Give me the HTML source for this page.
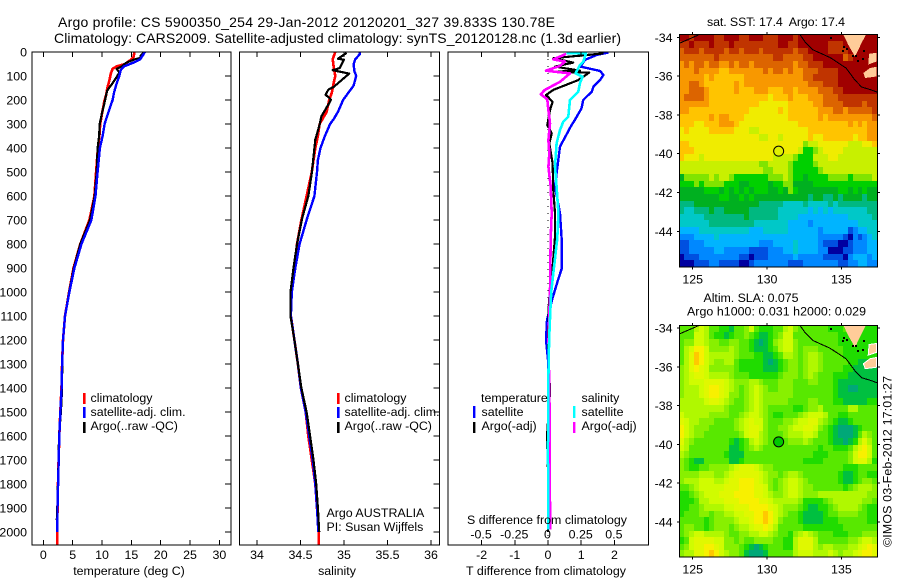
<!DOCTYPE html>
<html lang="en">
<head>
<meta charset="utf-8">
<title>Argo profile</title>
<style>
html,body{margin:0;padding:0;background:#fff;width:900px;height:580px;overflow:hidden}
svg{display:block}
text{font-family:"Liberation Sans",sans-serif;font-size:12.4px;fill:#000}
.title{font-size:14px}
</style>
</head>
<body>
<svg id="chart" xmlns="http://www.w3.org/2000/svg" width="900" height="580" viewBox="0 0 900 580">
<rect x="0" y="0" width="900" height="580" fill="#fff"/>
<text class="title" x="58" y="27" textLength="497" lengthAdjust="spacing">Argo profile: CS 5900350_254 29-Jan-2012 20120201_327 39.833S 130.78E</text>
<text class="title" x="54" y="43" textLength="567" lengthAdjust="spacing">Climatology: CARS2009. Satellite-adjusted climatology: synTS_20120128.nc (1.3d earlier)</text>
<g id="layer-maps"></g>
<g id="layer-lines"></g>
<g id="layer-axes"></g>

<text x="129" y="575" text-anchor="middle">temperature (deg C)</text>
<text x="337" y="575" text-anchor="middle">salinity</text>
<text x="546" y="575" text-anchor="middle" textLength="160">T difference from climatology</text>
<text x="547" y="524" text-anchor="middle" textLength="160">S difference from climatology</text>

<g>
<rect x="83" y="393" width="2.6" height="11" fill="#ff0000"/>
<text x="90.5" y="402">climatology</text>
<rect x="83" y="407" width="2.6" height="11" fill="#0000ff"/>
<text x="90.5" y="416">satellite-adj. clim.</text>
<rect x="83" y="422" width="2.6" height="11" fill="#000"/>
<text x="90.5" y="430">Argo(..raw -QC)</text>
</g>
<g>
<rect x="337" y="393" width="2.6" height="11" fill="#ff0000"/>
<text x="344.5" y="402">climatology</text>
<rect x="337" y="407" width="2.6" height="11" fill="#0000ff"/>
<text x="344.5" y="416">satellite-adj. clim.</text>
<rect x="337" y="422" width="2.6" height="11" fill="#000"/>
<text x="344.5" y="430">Argo(..raw -QC)</text>
<text x="326.5" y="517">Argo AUSTRALIA</text>
<text x="326.5" y="531">PI: Susan Wijffels</text>
</g>
<g>
<text x="481" y="402">temperature</text>
<rect x="473" y="406" width="2.4" height="12" fill="#0000ff"/>
<text x="481.5" y="416">satellite</text>
<rect x="473" y="422" width="2.4" height="11" fill="#000"/>
<text x="481.5" y="430">Argo(-adj)</text>
<text x="581.5" y="402">salinity</text>
<rect x="573" y="406" width="2.4" height="12" fill="#00ffff"/>
<text x="581.5" y="416">satellite</text>
<rect x="573" y="422" width="2.4" height="11" fill="#ff00ff"/>
<text x="581.5" y="430">Argo(-adj)</text>
</g>

<text x="707" y="26" textLength="138" xml:space="preserve">sat. SST: 17.4  Argo: 17.4</text>
<text x="703.5" y="302" textLength="95">Altim. SLA: 0.075</text>
<text x="687" y="315.5" textLength="179">Argo h1000: 0.031 h2000: 0.029</text>
<text transform="translate(891.5,547) rotate(-90)" x="0" y="0" textLength="171">©IMOS 03-Feb-2012 17:01:27</text>
</svg>
<script>
// ---------- depth profile data (depth in metres) ----------
const tempClimDepths = [0,20,30,50,60,70,90,120,150,180,200,250,300,350,400,500,600,700,800,900,1000,1100,1200,1300,1400,1500,1600,1700,1800,1900,2000,2054];
const tempClimValues = [15.5,15.4,15.05,13.9,12.5,11.8,11.5,11.25,10.9,10.7,10.45,10.05,9.7,9.55,9.3,9.0,8.7,7.85,6.3,5.15,4.4,3.7,3.35,3.2,3.1,2.9,2.72,2.6,2.5,2.42,2.38,2.38];
const tempSatDepths = [0,10,30,45,60,75,100,130,170,200,250,300,350,400,500,600,700,800,900,1000,1100,1200,1300,1400,1500,1600,1700,1800,1900,2000];
const tempSatValues = [17.3,17.05,16.5,15.3,13.75,13.2,12.95,12.5,12.05,11.8,11.1,10.45,10.1,9.65,9.25,8.9,8.2,6.5,5.3,4.45,3.7,3.35,3.2,3.12,2.92,2.72,2.62,2.52,2.42,2.4];
const tempArgoDepths = [0,15,25,30,45,60,70,85,100,130,160,180,220,260,300,350,400,500,600,700,800,900,1000,1100,1200,1300,1400,1500,1600,1700,1800,1900,1950];
const tempArgoValues = [17.15,16.6,16.5,15.6,14.1,13.35,12.5,12.95,12.6,11.8,10.9,10.7,10.35,9.95,9.6,9.5,9.25,9.1,8.75,7.95,6.3,5.2,4.4,3.7,3.35,3.22,3.2,3.0,2.68,2.6,2.48,2.38,2.3];

const salClimDepths = [0,30,60,100,130,170,200,250,300,350,400,500,600,700,800,900,1000,1100,1200,1300,1400,1500,1600,1700,1800,1900,2000,2054];
const salClimValues = [34.9,34.87,34.88,34.9,34.88,34.86,34.83,34.8,34.72,34.7,34.67,34.63,34.57,34.51,34.46,34.43,34.39,34.39,34.43,34.47,34.505,34.56,34.59,34.63,34.67,34.69,34.71,34.71];
const salSatDepths = [0,10,30,50,80,100,140,170,200,250,280,300,350,400,450,500,600,700,800,900,1000,1100,1200,1300,1400,1500,1600,1700,1800,1900,2000];
const salSatValues = [35.18,35.18,35.13,35.11,35.12,35.14,35.11,35.05,34.99,34.93,34.88,34.84,34.78,34.73,34.7,34.69,34.66,34.57,34.49,34.44,34.4,34.39,34.43,34.47,34.505,34.56,34.6,34.64,34.67,34.69,34.705];
const salArgoDepths = [4,28,32,67,76,90,146,157,178,199,219,268,303,365,504,601,692,800,900,1000,1100,1200,1300,1400,1500,1600,1700,1800,1900,2000];
const salArgoValues = [35.03,34.93,35.0,34.95,34.87,35.06,34.88,34.82,34.79,34.85,34.82,34.74,34.72,34.67,34.63,34.59,34.52,34.46,34.42,34.385,34.385,34.43,34.47,34.51,34.57,34.61,34.65,34.68,34.7,34.715];

const diffTSatDepths = [2,12,33,61,79,96,117,144,165,200,235,283,304,394,505,561,672,776,900,950,1033,1117,1200,1283,1500,1700,2000];
const diffTSatValues = [1.82,1.47,1.11,0.98,1.57,1.67,1.57,1.37,1.32,1.06,1.01,0.81,0.71,0.36,0.26,0.21,0.36,0.41,0.42,0.3,0.12,-0.03,-0.06,0,0,0,0];
const diffTArgoDepths = [6,26,44,61,78,82,86,117,158,179,207,242,304,339,381,464,575,672,769,930,1033,1200,1417,1600,1750,2000];
const diffTArgoValues = [1.67,0.16,0.76,0.21,0.96,0.16,1.24,0.91,0.16,-0.06,0.14,0.06,-0.02,0.11,0.04,0.14,0.16,0.21,0.21,0.12,0.03,0,0.06,-0.03,0,0];
const diffSSatDepths = [6,6,40,54,89,103,131,165,200,269,290,325,381,478,561,672,776,1000,1100,1200,1417,1620,1640,1700,1720,1990];
const diffSSatValues = [0.14,0.286,0.266,0.24,0.208,0.26,0.24,0.228,0.166,0.153,0.115,0.09,0.065,0.053,0.065,0.078,0.07,0.024,0.016,0.008,0.001,0.001,-0.003,-0.003,0.001,0.001];
const diffSArgoDepths = [8,31,40,58,78,89,124,158,176,197,242,297,367,422,478,561,672,776,1000,1200,1500,1917,1990];
const diffSArgoValues = [0.136,0.04,0.128,0.09,-0.015,0.166,0.09,-0.023,-0.055,-0.005,0.003,0.015,0.003,0.01,0.003,0.02,0.028,0.02,0.015,0.004,0.012,0.015,0.015];

// ---------- axis labels ----------
const depthTicks = [0,100,200,300,400,500,600,700,800,900,1000,1100,1200,1300,1400,1500,1600,1700,1800,1900,2000];
const tempTicks = [0,5,10,15,20,25,30];
const salTicks = [34,34.5,35,35.5,36];
const diffTTicks = [-2,-1,0,1,2];
const diffSTicks = [-0.5,-0.25,0,0.25,0.5];
const lonTicks = [125,130,135];
const latTicks = [-34,-36,-38,-40,-42,-44];

// ---------- map data: colour-scale level per grid cell, north to south ----------
const sstRows = [
[15,15,14,15,15,15,15,14,14,15,15,15,14,14,15,15,15,14,14,14,15,15,15,14,15,15,15,15,15,15,15,15,15,15,15,15,15,15,15,15],
[14,14,15,14,14,14,15,14,14,14,15,14,14,14,14,14,14,14,14,14,15,15,14,14,15,15,15,15,15,15,14,14,14,15,15,15,15,15,15,15],
[13,14,14,14,13,14,14,14,14,13,14,14,13,14,14,14,13,14,14,14,14,14,14,13,14,14,15,15,15,15,14,14,14,14,15,15,15,15,15,15],
[13,13,13,13,13,13,13,14,13,13,13,13,13,13,13,13,13,13,13,14,14,13,13,13,13,14,14,15,15,15,15,15,15,13,14,15,15,15,15,15],
[12,13,12,13,13,12,13,13,12,12,13,12,13,13,12,13,13,13,13,13,13,13,13,12,13,13,14,14,14,15,15,15,15,15,15,15,15,15,15,15],
[12,12,12,13,12,12,12,12,11,11,12,12,12,12,12,12,12,13,12,13,13,12,13,12,12,13,13,13,14,14,14,14,15,15,15,15,15,15,15,15],
[12,12,12,12,12,11,12,11,11,11,11,11,11,12,12,12,12,12,12,12,12,12,12,12,12,13,13,14,14,14,14,14,15,15,15,15,15,15,15,15],
[12,12,13,13,12,11,11,11,11,11,11,12,11,12,12,12,12,12,12,12,12,12,12,12,12,12,13,13,13,14,14,14,15,15,15,15,15,15,15,15],
[12,12,13,13,13,12,11,11,11,11,11,12,11,11,11,12,12,12,11,11,11,12,12,11,12,12,12,12,13,13,13,14,14,15,15,15,15,15,15,15],
[12,13,13,13,13,12,11,11,11,11,11,11,11,11,11,11,11,11,10,11,11,11,12,11,11,11,12,12,12,13,13,13,14,14,14,14,14,14,14,14],
[12,12,12,12,12,12,11,11,11,11,11,11,11,11,11,11,10,10,10,10,10,10,11,11,11,11,11,12,12,13,13,13,13,14,14,14,14,13,14,14],
[12,12,11,11,11,11,11,11,11,11,11,11,11,11,10,10,10,10,10,10,11,10,11,11,11,11,11,11,12,12,12,13,13,12,13,13,13,13,13,14],
[11,11,11,11,11,11,12,11,12,12,11,11,11,10,10,10,10,10,10,10,10,10,11,11,11,11,11,11,12,11,12,12,12,12,12,12,12,12,12,13],
[11,11,11,10,10,11,11,11,12,12,12,11,10,10,10,10,10,10,10,10,10,10,10,10,11,11,11,11,11,11,11,11,11,11,12,11,12,11,12,12],
[10,11,10,10,10,10,11,11,11,11,11,10,10,10,9,9,10,10,10,10,10,10,10,10,10,10,11,11,11,11,11,11,11,11,11,11,11,11,12,12],
[10,10,10,10,10,10,10,10,10,10,10,10,10,10,10,10,9,9,10,10,9,10,10,10,10,10,11,10,10,11,11,11,11,11,11,10,11,11,12,12],
[11,11,10,10,10,10,10,10,10,10,10,10,10,10,10,10,10,10,10,10,10,10,10,10,10,8,9,9,10,10,10,10,10,10,9,9,9,10,10,11],
[11,11,11,10,10,10,10,10,10,10,10,10,10,10,10,10,10,10,10,10,10,10,10,10,9,7,7,8,9,10,10,10,10,9,9,9,9,9,9,9],
[11,10,10,10,9,10,10,10,10,10,10,10,10,10,10,10,10,10,10,9,9,9,9,8,7,7,7,9,9,9,10,10,9,9,9,9,9,9,9,9],
[9,9,9,9,9,9,9,9,9,9,9,9,9,9,9,9,8,8,9,9,9,9,8,7,7,7,7,8,9,9,9,9,9,9,9,9,9,9,9,9],
[9,9,9,9,9,9,9,9,9,9,9,9,9,9,9,9,9,8,8,9,9,9,8,7,7,7,7,7,8,9,9,9,9,9,9,9,9,9,9,9],
[6,8,8,8,8,8,9,8,9,9,8,7,7,7,7,7,7,7,8,8,8,9,8,7,7,6,7,7,7,7,8,8,8,8,7,8,8,8,8,9],
[7,7,7,8,7,8,8,8,8,7,7,7,6,6,7,7,7,7,6,7,7,8,8,6,6,6,6,7,7,7,7,7,7,7,7,7,7,7,7,7],
[6,6,6,6,6,7,7,7,6,7,6,7,6,7,6,7,7,7,6,6,7,6,8,7,6,6,6,6,6,6,6,6,7,7,6,7,6,7,6,6],
[6,6,6,6,6,6,6,6,7,7,6,6,7,6,7,6,6,6,6,6,6,6,6,6,6,6,5,6,6,5,5,6,5,6,6,6,6,5,6,6],
[5,5,5,6,6,6,6,6,6,6,6,6,6,6,6,6,5,5,5,5,5,4,4,4,4,5,4,4,4,4,5,4,5,5,5,5,5,5,5,5],
[5,4,4,5,5,5,6,5,5,6,6,6,6,6,5,5,5,5,5,5,4,4,4,4,4,4,3,4,3,4,3,4,4,4,4,4,4,4,5,5],
[4,4,4,4,4,5,5,5,5,5,5,5,5,6,5,5,5,5,5,5,4,4,4,4,3,3,3,3,3,3,3,3,3,3,4,4,4,4,4,5],
[4,4,4,4,4,4,5,5,5,5,5,5,5,5,5,4,4,4,4,4,4,4,3,3,3,3,2,3,3,3,3,3,3,3,3,3,4,4,4,4],
[3,3,3,3,4,4,4,4,4,4,4,4,4,4,3,3,3,4,4,4,4,4,3,3,3,3,3,3,2,3,3,3,3,3,1,2,3,3,4,4],
[2,2,2,3,3,3,3,4,3,3,3,3,3,3,3,3,3,3,3,3,3,3,3,3,3,3,3,3,2,2,2,2,2,1,0,2,1,2,3,4],
[1,1,2,2,2,3,3,3,3,3,3,3,3,3,3,3,2,2,2,3,3,3,3,4,3,3,3,3,2,1,1,1,0,0,1,2,2,2,3,3],
[1,1,2,2,2,2,2,3,3,2,2,2,2,2,1,1,1,1,2,2,2,3,3,4,3,3,3,3,2,2,0,0,0,1,1,2,2,2,3,3],
[0,1,1,1,2,2,2,2,2,2,2,2,1,1,0,1,1,1,2,2,2,2,2,3,2,2,2,2,2,1,1,1,1,0,2,3,3,3,2,3],
[0,0,0,1,1,1,2,2,1,1,1,1,0,0,1,2,2,2,2,2,2,2,1,1,1,2,2,2,2,2,2,2,1,1,2,2,3,3,2,2]
];
const slaRows = [
[3,3,3,5,6,5,3,3,2,2,1,3,3,4,6,3,2,2,2,3,3,5,6,4,3,3,3,3,3,3,2,2,2,3,3,3,3,2,2,2],
[3,3,3,6,6,5,3,2,2,1,2,3,3,4,3,2,1,1,2,3,4,6,6,3,3,3,3,3,3,3,3,3,2,2,2,2,2,2,2,2],
[3,4,4,6,6,5,4,4,3,3,4,4,3,3,2,1,0,1,2,4,5,6,6,4,3,3,3,3,3,3,3,3,2,2,2,2,2,2,2,2],
[3,5,6,8,8,6,4,4,4,4,5,4,3,3,2,1,1,1,2,3,5,6,6,4,3,4,4,4,3,3,3,3,3,2,2,2,2,2,2,2],
[3,5,7,9,8,6,5,5,5,5,5,4,3,3,3,2,2,1,1,2,3,5,5,4,3,4,5,5,4,3,3,3,3,2,2,2,2,2,2,2],
[3,5,7,9,8,6,5,4,4,5,5,3,2,2,2,2,2,1,0,1,2,3,4,4,3,4,5,5,4,3,3,3,3,3,2,2,1,1,2,2],
[4,5,7,8,7,6,4,4,4,4,4,3,2,2,2,2,2,1,1,1,2,3,4,4,3,4,5,5,4,3,3,3,3,2,2,1,1,1,1,1],
[4,5,6,7,7,6,5,5,5,5,4,3,3,3,2,2,2,2,2,2,3,4,4,4,3,4,5,4,3,3,3,2,2,2,1,1,1,1,1,1],
[4,5,6,6,6,7,7,7,7,6,5,4,4,4,5,5,4,3,3,3,4,4,4,3,3,3,4,4,3,3,3,2,1,1,1,1,1,1,1,1],
[4,5,5,5,6,7,8,8,7,6,5,4,3,4,5,6,5,4,3,3,4,4,4,3,3,3,3,3,3,3,3,2,1,1,0,0,1,1,1,1],
[4,5,5,5,6,7,8,8,7,6,4,4,3,4,5,6,5,4,4,4,4,4,4,3,3,3,3,3,3,3,3,2,1,1,1,1,1,1,1,1],
[5,5,5,5,5,6,7,7,6,5,4,3,3,4,5,6,5,4,4,4,4,4,3,3,3,3,4,4,3,3,3,2,2,1,1,1,1,1,2,2],
[5,5,5,5,5,5,5,5,5,4,3,3,3,4,5,6,5,4,3,3,3,3,3,2,2,3,4,4,5,3,3,3,3,3,5,5,3,3,3,3],
[6,5,5,5,5,5,4,4,4,4,3,3,4,5,6,6,5,4,3,2,2,3,3,3,4,5,6,6,6,5,3,3,2,2,3,3,3,3,3,3],
[7,6,5,5,4,4,4,3,3,3,3,4,5,6,7,6,6,4,3,3,3,4,4,5,6,6,7,7,5,4,3,2,1,1,2,3,3,3,3,3],
[8,6,5,4,4,4,3,3,3,3,3,4,5,6,7,7,6,4,3,3,4,4,5,6,6,7,7,6,4,3,2,1,0,0,0,1,2,3,3,3],
[8,6,5,4,4,3,3,3,3,3,3,3,4,6,7,7,5,4,3,3,3,4,5,5,5,6,6,5,3,3,2,1,0,0,0,1,3,5,4,3],
[7,5,4,3,3,3,3,3,3,3,2,1,2,3,5,6,5,4,3,3,3,3,4,4,4,5,4,3,3,3,2,1,1,0,1,2,5,7,5,3],
[6,5,3,3,3,3,3,3,3,3,1,1,2,3,4,5,4,3,3,3,3,3,3,3,3,3,3,3,2,3,3,2,2,2,3,5,7,8,6,3],
[5,4,3,3,3,3,3,3,3,2,1,1,1,3,3,3,3,3,3,3,3,3,3,3,3,3,3,2,2,2,3,3,3,3,4,6,8,8,6,3],
[4,3,2,1,1,3,3,3,3,3,1,1,2,3,3,3,3,3,3,3,3,3,3,3,3,2,2,2,2,3,3,3,3,3,4,6,7,7,5,2],
[4,3,2,2,3,3,4,4,4,4,5,6,7,7,7,6,5,4,4,3,3,3,3,3,3,3,3,3,3,3,3,3,3,2,2,2,3,3,3,3],
[4,4,4,4,5,5,5,4,4,5,6,7,7,7,7,7,6,5,4,4,3,4,5,5,4,3,3,3,3,3,3,3,2,1,1,2,3,3,2,2],
[4,5,5,5,6,6,6,5,5,6,7,7,8,8,8,7,6,5,4,3,4,5,6,6,5,4,3,3,3,3,3,3,2,1,1,2,3,4,4,3],
[3,3,4,5,6,6,6,6,6,7,7,7,8,8,8,7,7,6,4,3,4,5,6,6,5,4,4,3,3,3,3,3,3,2,3,4,5,5,5,4],
[2,2,3,4,5,6,6,6,7,7,7,8,8,8,8,7,7,6,5,4,4,5,6,6,5,4,4,4,5,5,5,5,5,5,5,5,5,5,4,4],
[2,2,2,3,5,5,6,6,6,7,7,7,8,8,8,8,7,7,6,5,5,5,5,5,4,2,2,2,2,3,4,5,5,5,5,5,5,4,4,3],
[2,2,3,3,4,5,5,5,5,6,6,7,7,7,8,8,8,8,7,6,5,4,4,4,3,2,1,1,2,2,3,4,5,5,5,5,4,3,2,2],
[2,3,3,3,4,4,3,4,4,5,5,6,6,7,7,8,8,9,8,6,5,4,3,3,2,1,1,1,1,2,3,3,4,4,4,4,3,3,2,2],
[3,3,3,3,3,2,3,4,4,4,4,5,6,6,7,8,8,9,8,6,4,3,3,3,2,1,1,1,1,2,2,2,3,3,3,3,3,3,2,2],
[3,4,4,3,3,2,3,4,4,4,3,4,5,5,6,7,7,8,7,5,3,3,3,3,3,2,2,2,2,2,2,2,2,3,3,3,3,3,3,3],
[3,4,5,6,6,5,5,5,5,4,3,3,4,4,5,5,6,6,5,4,3,3,2,4,5,6,5,4,3,3,3,2,2,2,3,3,3,4,4,4],
[2,3,6,7,7,7,7,6,6,4,4,3,4,3,3,4,4,4,4,3,3,2,2,5,7,7,7,5,3,3,3,3,3,3,4,4,5,6,6,5],
[3,4,6,7,7,8,8,7,6,4,4,4,3,2,1,0,1,2,3,3,3,2,2,5,7,7,7,5,4,5,5,4,4,4,5,5,6,7,8,7],
[4,5,5,7,7,8,9,8,6,5,4,4,3,1,0,0,0,1,3,3,3,3,3,5,6,6,6,5,5,5,6,5,4,5,5,6,7,8,8,7]
];
const sstColours = ['#0000a0','#0050e0','#0088ff','#00b4ff','#00c8c8','#00b880','#00b020','#00d000','#80e400','#c8f000','#f0ec00','#ffc400','#f89800','#dc6400','#c03400','#a00000'];
const slaColours = ['#00a878','#00c040','#20dc00','#58e800','#88f000','#b0f800','#d0fc00','#e0f800','#f8f000','#ffc800'];

// ---------- geography (lon, lat) ----------
const landNorthLon = [135.13,136.66,136.36,135.95,135.9,135.46];
const landNorthLat = [-33.85,-33.85,-34.29,-34.95,-34.98,-34.38];
const landEastLon = [136.86,137.37,137.37,136.8];
const landEastLat = [-34.85,-34.8,-35.25,-35.4];
const landSouthLon = [136.48,136.92,137.37,137.37,136.6];
const landSouthLat = [-35.84,-35.58,-35.52,-36.02,-36.1];
const contourEastLon = [132.2,132.55,133.1,134.23,135.31,135.91,136.36,136.92,137.39];
const contourEastLat = [-33.85,-34.23,-34.65,-35.04,-35.58,-36.2,-36.56,-36.69,-36.82];
const contourWestLon = [124.1,125.38];
const contourWestLat = [-34.31,-33.88];
const islandLon = [135.13,135.31,135.02,135.69,135.91,136.03,136.37,136.47,134.23];
const islandLat = [-34.46,-34.55,-34.64,-34.89,-34.89,-35.15,-35.07,-34.64,-33.98];
const floatLon = [130.78];
const floatLat = [-39.833];

const NS = 'http://www.w3.org/2000/svg';
const layerMaps = document.getElementById('layer-maps');
const layerLines = document.getElementById('layer-lines');
const layerAxes = document.getElementById('layer-axes');

function shape(tag, parent, attrs) {
  const node = document.createElementNS(NS, tag);
  for (const k in attrs) node.setAttribute(k, attrs[k]);
  parent.appendChild(node);
  return node;
}

// ---------- axis functions ----------
const depthY = d => 52 + d * 0.24;
const tempX = v => 43.3 + v * 5.87;
const salX = v => 257 + (v - 34) * 87;
const diffTX = v => 548 + v * 33.2;
const diffSX = v => 548 + v * 132.8;
const mapX = lon => 692.7 + (lon - 125) * 14.87;
const map1Y = lat => 37.3 + (-34 - lat) * 19.4;
const map2Y = lat => 328 + (-34 - lat) * 19.4;

const panels = [
  {name: 'temperature', x: 32, w: 199, xf: tempX, ticks: tempTicks, right: true},
  {name: 'salinity', x: 239.5, w: 200, xf: salX, ticks: salTicks, right: true},
  {name: 'difference', x: 448, w: 200.5, xf: diffTX, ticks: diffTTicks, right: false}
];
const TOP = 52, BOTTOM = 545;

panels.forEach(function (p) {
  const frame = shape('rect', layerAxes, {x: p.x, y: TOP, width: p.w, height: BOTTOM - TOP, fill: 'none', stroke: '#000', 'stroke-width': 1.2, 'shape-rendering': 'crispEdges'});
  
  
  p.ticks.forEach(function (t) {
    const x = p.xf(t);
    const up = shape('line', layerAxes, {x1: x, x2: x, y1: TOP, y2: TOP + 5, stroke: '#000', 'shape-rendering': 'crispEdges'});
    
    
    const dn = shape('line', layerAxes, {x1: x, x2: x, y1: BOTTOM - 5, y2: BOTTOM, stroke: '#000', 'shape-rendering': 'crispEdges'});
    
    
    const lab = shape('text', layerAxes, {x: x, y: 559, 'text-anchor': 'middle'});
    lab.textContent = String(t);
    
    
  });
  if (p.right) {
    depthTicks.forEach(function (d) {
      const rt = shape('line', layerAxes, {x1: p.x + p.w - 6, x2: p.x + p.w, y1: depthY(d), y2: depthY(d), stroke: '#000', 'shape-rendering': 'crispEdges'});
      
      
    });
  }
});

depthTicks.forEach(function (d) {
  const lab = shape('text', layerAxes, {x: 27, y: depthY(d) + 4.5, 'text-anchor': 'end'});
  lab.textContent = String(d);
  
  
});

diffSTicks.forEach(function (s) {
  const lab = shape('text', layerAxes, {x: diffSX(s) - 0.5, y: 538.5, 'text-anchor': 'middle'});
  lab.textContent = String(s);
  
  
});

// ---------- zero line of the difference panel ----------
const zeroLine = shape('line', layerLines, {x1: diffTX(0), x2: diffTX(0), y1: TOP, y2: BOTTOM, stroke: '#000', 'stroke-width': 1, 'stroke-dasharray': '1 6', 'shape-rendering': 'crispEdges'});



// ---------- profile lines ----------
function profile(depths, values, xf, colour, width, name) {
  const pts = depths.map(function (d, i) { return xf(values[i]).toFixed(1) + ',' + depthY(d).toFixed(1); }).join(' ');
  const line = shape('polyline', layerLines, {points: pts, fill: 'none', stroke: colour, 'stroke-width': width, 'stroke-linejoin': 'round', 'shape-rendering': 'crispEdges'});
  
  
}
profile(tempClimDepths, tempClimValues, tempX, '#ff0000', 2.6, 'temperature-climatology-line');
profile(tempArgoDepths, tempArgoValues, tempX, '#000000', 2.2, 'temperature-argo-line');
profile(tempSatDepths, tempSatValues, tempX, '#0000ff', 2.4, 'temperature-satellite-line');
profile(salClimDepths, salClimValues, salX, '#ff0000', 2.6, 'salinity-climatology-line');
profile(salSatDepths, salSatValues, salX, '#0000ff', 2.4, 'salinity-satellite-line');
profile(salArgoDepths, salArgoValues, salX, '#000000', 2.2, 'salinity-argo-line');
profile(diffTSatDepths, diffTSatValues, diffTX, '#0000ff', 2.4, 'difference-t-satellite-line');
profile(diffTArgoDepths, diffTArgoValues, diffTX, '#000000', 2.2, 'difference-t-argo-line');
profile(diffSArgoDepths, diffSArgoValues, diffSX, '#ff00ff', 2.6, 'difference-s-argo-line');
profile(diffSSatDepths, diffSSatValues, diffSX, '#00ffff', 2.6, 'difference-s-satellite-line');

// ---------- maps ----------
function drawMap(prefix, rows, colours, top, bottom, yf, markerFill, landEdge) {
  const left = 679.3, right = 877.3;
  const nRows = rows.length;
  const nCols = rows[0].length;
  const cw = (right - left) / nCols;
  const ch = (bottom - top) / nRows;
  rows.forEach(function (row, r) {
    row.forEach(function (v, c) {
      const x0 = Math.round(left + c * cw), x1 = Math.round(left + (c + 1) * cw);
      const y0 = Math.round(top + r * ch), y1 = Math.round(top + (r + 1) * ch);
      const cell = shape('rect', layerMaps, {x: x0, y: y0, width: x1 - x0, height: y1 - y0, fill: colours[v], 'shape-rendering': 'crispEdges'});
      
      
    });
  });
  [[landNorthLon, landNorthLat, 'none'], [landEastLon, landEastLat, landEdge], [landSouthLon, landSouthLat, landEdge]].forEach(function (l) {
    const pts = l[0].map(function (lon, i) { return mapX(lon).toFixed(1) + ',' + yf(l[1][i]).toFixed(1); }).join(' ');
    const land = shape('polygon', layerMaps, {points: pts, fill: '#ffcc99', stroke: l[2], 'stroke-width': 1, 'shape-rendering': 'crispEdges'});
    
    
  });
  islandLon.forEach(function (lon, i) {
    const isle = shape('rect', layerMaps, {x: Math.round(mapX(lon)), y: Math.round(yf(islandLat[i])), width: 2, height: 2, fill: '#000', 'shape-rendering': 'crispEdges'});
    
    
  });
  [[contourEastLon, contourEastLat], [contourWestLon, contourWestLat]].forEach(function (l) {
    const pts = l[0].map(function (lon, i) { return mapX(lon).toFixed(1) + ',' + yf(l[1][i]).toFixed(1); }).join(' ');
    const contour = shape('polyline', layerMaps, {points: pts, fill: 'none', stroke: '#000', 'stroke-width': 1, 'shape-rendering': 'crispEdges'});
    
    
  });
  floatLon.forEach(function (lon, i) {
    const marker = shape('circle', layerMaps, {cx: mapX(lon), cy: yf(floatLat[i]) + 0.7, r: 5, fill: markerFill, stroke: '#000', 'stroke-width': 1});
    
    
  });
  const frame = shape('rect', layerMaps, {x: left, y: top, width: right - left, height: bottom - top, fill: 'none', stroke: '#000', 'stroke-width': 1, 'shape-rendering': 'crispEdges'});
  
  
  lonTicks.forEach(function (t) {
    const x = mapX(t);
    const a = shape('line', layerMaps, {x1: x, x2: x, y1: top - 2.5, y2: top, stroke: '#000', 'shape-rendering': 'crispEdges'});
    
    
    const b = shape('line', layerMaps, {x1: x, x2: x, y1: bottom, y2: bottom + 2.5, stroke: '#000', 'shape-rendering': 'crispEdges'});
    
    
    const lab = shape('text', layerMaps, {x: x, y: bottom + 16.5, 'text-anchor': 'middle'});
    lab.textContent = String(t);
    
    
  });
  latTicks.forEach(function (t) {
    const y = yf(t);
    const a = shape('line', layerMaps, {x1: left - 2.5, x2: left, y1: y, y2: y, stroke: '#000', 'shape-rendering': 'crispEdges'});
    
    
    const b = shape('line', layerMaps, {x1: right, x2: right + 2.5, y1: y, y2: y, stroke: '#000', 'shape-rendering': 'crispEdges'});
    
    
    const lab = shape('text', layerMaps, {x: 672.5, y: y + 4.5, 'text-anchor': 'end'});
    lab.textContent = String(t);
    
    
  });
}
drawMap('sst-map', sstRows, sstColours, 34.3, 267, map1Y, '#e0f000', 'none');
drawMap('sla-map', slaRows, slaColours, 325.7, 557, map2Y, '#00c800', '#ffffff');
</script>
</body>
</html>
